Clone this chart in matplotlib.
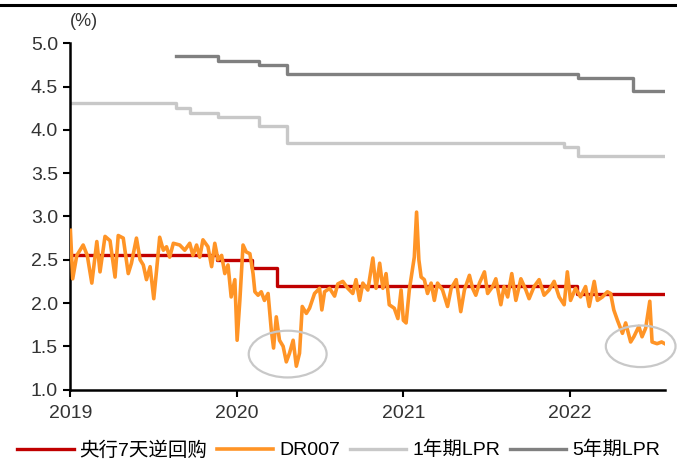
import matplotlib
matplotlib.use("Agg")
import matplotlib.pyplot as plt
import matplotlib.dates as mdates
from matplotlib.patches import Ellipse
from matplotlib.lines import Line2D
import pandas as pd

plt.rcParams['font.family'] = ['Liberation Sans', 'Noto Sans CJK SC', 'DejaVu Sans']

# 央行7天逆回购利率（调整日）
repo_dates = ['2019-01-01', '2019-11-18', '2020-02-03', '2020-03-30', '2022-01-17', '2022-07-29']
repo_rates = [2.55, 2.50, 2.40, 2.20, 2.10, 2.10]

# 1年期LPR
lpr1_dates = ['2019-01-01', '2019-08-20', '2019-09-20', '2019-11-20', '2020-02-20',
              '2020-04-20', '2021-12-20', '2022-01-20', '2022-07-29']
lpr1_rates = [4.31, 4.25, 4.20, 4.15, 4.05, 3.85, 3.80, 3.70, 3.70]

# 5年期LPR
lpr5_dates = ['2019-08-20', '2019-11-20', '2020-02-20', '2020-04-20', '2022-01-20',
              '2022-05-20', '2022-07-29']
lpr5_rates = [4.85, 4.80, 4.75, 4.65, 4.60, 4.45, 4.45]

# DR007
dr_dates = [
    '2019-01-01', '2019-01-06', '2019-01-15', '2019-01-29', '2019-02-07', '2019-02-17',
    '2019-02-28', '2019-03-07', '2019-03-18', '2019-03-29', '2019-04-09', '2019-04-16',
    '2019-04-27', '2019-05-08', '2019-05-15', '2019-05-26', '2019-06-03', '2019-06-10',
    '2019-06-17', '2019-06-25', '2019-07-03', '2019-07-09', '2019-07-16', '2019-07-24',
    '2019-07-31', '2019-08-07', '2019-08-15', '2019-08-29', '2019-09-09', '2019-09-20',
    '2019-09-27', '2019-10-05', '2019-10-12', '2019-10-19', '2019-10-30', '2019-11-07',
    '2019-11-14', '2019-11-21', '2019-11-29', '2019-12-06', '2019-12-13', '2019-12-20',
    '2019-12-28', '2020-01-02', '2020-01-08', '2020-01-15', '2020-01-22', '2020-01-30',
    '2020-02-06', '2020-02-10', '2020-02-17', '2020-02-24', '2020-03-02', '2020-03-10',
    '2020-03-17', '2020-03-22', '2020-03-28', '2020-04-04', '2020-04-12', '2020-04-19',
    '2020-04-26', '2020-05-04', '2020-05-11', '2020-05-18', '2020-05-24', '2020-06-02',
    '2020-06-09', '2020-06-20', '2020-07-01', '2020-07-06', '2020-07-12', '2020-07-23',
    '2020-08-03', '2020-08-10', '2020-08-21', '2020-09-01', '2020-09-12', '2020-09-19',
    '2020-09-27', '2020-10-04', '2020-10-15', '2020-10-26', '2020-11-02', '2020-11-10',
    '2020-11-17', '2020-11-24', '2020-12-01', '2020-12-12', '2020-12-20', '2020-12-27',
    '2021-01-01', '2021-01-07', '2021-01-14', '2021-01-20', '2021-01-25', '2021-01-30',
    '2021-02-04', '2021-02-09', '2021-02-16', '2021-02-23', '2021-03-03', '2021-03-10',
    '2021-03-17', '2021-03-28', '2021-04-08', '2021-04-16', '2021-04-27', '2021-05-07',
    '2021-05-15', '2021-05-26', '2021-06-02', '2021-06-09', '2021-06-17', '2021-06-28',
    '2021-07-05', '2021-07-16', '2021-07-23', '2021-08-03', '2021-08-10', '2021-08-18',
    '2021-08-27', '2021-09-05', '2021-09-16', '2021-09-27', '2021-10-04', '2021-10-15',
    '2021-10-26', '2021-11-06', '2021-11-17', '2021-11-28', '2021-12-09', '2021-12-20',
    '2021-12-27', '2022-01-03', '2022-01-14', '2022-01-25', '2022-02-05', '2022-02-13',
    '2022-02-24', '2022-03-03', '2022-03-14', '2022-03-25', '2022-04-01', '2022-04-08',
    '2022-04-16', '2022-04-27', '2022-05-04', '2022-05-15', '2022-05-22', '2022-06-02',
    '2022-06-09', '2022-06-17', '2022-06-26', '2022-07-01', '2022-07-12', '2022-07-22',
    '2022-07-29',
]
dr_rates = [
    2.84, 2.28, 2.55, 2.67, 2.55, 2.23,
    2.71, 2.36, 2.77, 2.72, 2.30, 2.78,
    2.75, 2.34, 2.46, 2.75, 2.50, 2.44,
    2.27, 2.42, 2.05, 2.37, 2.76, 2.61,
    2.65, 2.53, 2.69, 2.67, 2.61, 2.69,
    2.55, 2.67, 2.53, 2.73, 2.65, 2.42,
    2.69, 2.50, 2.55, 2.34, 2.44, 2.07,
    2.27, 1.57, 2.03, 2.67, 2.59, 2.57,
    2.34, 2.13, 2.09, 2.13, 2.03, 2.11,
    1.69, 1.48, 1.84, 1.57, 1.50, 1.32,
    1.42, 1.57, 1.27, 1.42, 1.96, 1.88,
    1.94, 2.11, 2.17, 1.92, 2.13, 2.17,
    2.08, 2.22, 2.25, 2.17, 2.11, 2.27,
    2.03, 2.23, 2.15, 2.52, 2.17, 2.46,
    2.17, 2.34, 1.98, 1.94, 1.82, 2.15,
    1.80, 1.77, 2.15, 2.36, 2.53, 3.05,
    2.50, 2.30, 2.27, 2.11, 2.23, 2.03,
    2.23, 2.15, 1.96, 2.17, 2.27, 1.90,
    2.15, 2.32, 2.17, 2.09, 2.23, 2.36,
    2.11, 2.19, 2.28, 1.98, 2.19, 2.07,
    2.34, 2.03, 2.28, 2.15, 2.05, 2.19,
    2.27, 2.09, 2.15, 2.25, 2.07, 1.98,
    2.36, 2.03, 2.17, 2.07, 2.19, 1.96,
    2.25, 2.03, 2.07, 2.13, 2.11, 1.92,
    1.80, 1.65, 1.77, 1.55, 1.61, 1.73,
    1.61, 1.71, 2.02, 1.55, 1.53, 1.55,
    1.53,
]

fig = plt.figure(figsize=(6.77, 4.66), dpi=100)
ax = fig.add_axes([0.104, 0.164, 0.878, 0.743])

ax.step(pd.to_datetime(lpr1_dates), lpr1_rates, where='post', color='#C8C8C8', lw=2.4,
        label='1年期LPR', zorder=2)
ax.step(pd.to_datetime(lpr5_dates), lpr5_rates, where='post', color='#808080', lw=2.4,
        label='5年期LPR', zorder=2)
ax.step(pd.to_datetime(repo_dates), repo_rates, where='post', color='#C00000', lw=2.4,
        label='央行7天逆回购', zorder=3)
ax.plot(pd.to_datetime(dr_dates), dr_rates, color='#FF9426', lw=2.6, label='DR007', zorder=4)

# 标注两段资金利率低位区间：(中心日期, 中心纵坐标, 宽度/天, 高度)
circles = [('2020-04-22', 1.41, 171, 0.54), ('2022-06-06', 1.50, 153, 0.48)]
for center, cy, w, h in circles:
    ax.add_patch(Ellipse((mdates.date2num(pd.Timestamp(center)), cy), w, h, fill=False,
                         edgecolor='#C8C8C8', lw=1.6, clip_on=False, zorder=5))

ax.set_ylim(1.0, 5.0)
ax.set_yticks([1.0, 1.5, 2.0, 2.5, 3.0, 3.5, 4.0, 4.5, 5.0])
ax.yaxis.set_major_formatter(plt.FormatStrFormatter('%.1f'))
ax.set_xlim(pd.Timestamp('2019-01-01'), pd.Timestamp('2022-07-29'))
ax.xaxis.set_major_locator(mdates.YearLocator())
ax.xaxis.set_major_formatter(mdates.DateFormatter('%Y'))

for side in ['top', 'right']:
    ax.spines[side].set_visible(False)
for side in ['left', 'bottom']:
    ax.spines[side].set_linewidth(1.8)
ax.tick_params(axis='both', direction='out', length=5, width=1.5, labelsize=14,
               labelcolor='#333333', pad=4)
ax.tick_params(axis='x', pad=6)

fig.text(0.124, 0.953, '(%)', fontsize=13, color='#333333', ha='center', va='center')

handles, labels = ax.get_legend_handles_labels()
order = [2, 3, 0, 1]
ax.legend([handles[i] for i in order], [labels[i] for i in order], ncol=4, frameon=False,
          loc='center', bbox_to_anchor=(0.5, 0.034), bbox_transform=fig.transFigure,
          fontsize=14, handlelength=2.9, handletextpad=0.3, columnspacing=0.5)

# 顶部粗黑线
fig.add_artist(Line2D([0.0, 1.0], [0.989, 0.989], color='black', lw=2.2,
                      transform=fig.transFigure))

fig.savefig('out.png', dpi=100)
